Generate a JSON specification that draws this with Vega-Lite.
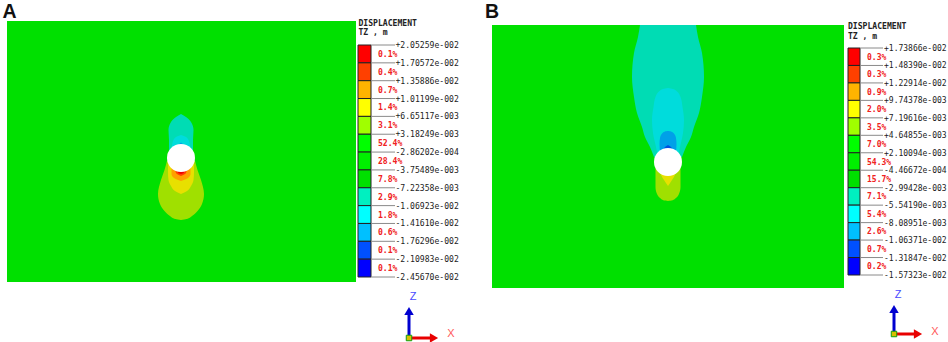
{"$schema":"https://vega.github.io/schema/vega-lite/v6.json","width":948,"height":342,"autosize":{"type":"none"},"padding":0,"background":"#ffffff","config":{"view":{"stroke":null}},
"datasets":{
"frames":[{"panel":"A","band":"b06","x0":-174,"x1":175,"y0":137,"y1":-124},{"panel":"B","band":"b06","x0":-176,"x1":176,"y0":137,"y1":-126}],
"centres":[{"panel":"A","x":0,"y":0},{"panel":"B","x":0,"y":0}],
"contours":[
{"panel":"A","shape":"a1","band":"b05","y":-3,"x0":-14,"x1":14},{"panel":"A","shape":"a1","band":"b05","y":-12,"x0":-16.5,"x1":16.5},{"panel":"A","shape":"a1","band":"b05","y":-22,"x0":-20,"x1":20},{"panel":"A","shape":"a1","band":"b05","y":-36,"x0":-23,"x1":23},{"panel":"A","shape":"a1","band":"b05","y":-46,"x0":-21,"x1":21},{"panel":"A","shape":"a1","band":"b05","y":-53,"x0":-16.5,"x1":16.5},{"panel":"A","shape":"a1","band":"b05","y":-58,"x0":-11,"x1":11},{"panel":"A","shape":"a1","band":"b05","y":-61,"x0":-5.5,"x1":5.5},{"panel":"A","shape":"a1","band":"b05","y":-62,"x0":0,"x1":0},
{"panel":"A","shape":"a2","band":"b04","y":-4,"x0":-13,"x1":13},{"panel":"A","shape":"a2","band":"b04","y":-14,"x0":-13,"x1":13},{"panel":"A","shape":"a2","band":"b04","y":-22,"x0":-12.5,"x1":12.5},{"panel":"A","shape":"a2","band":"b04","y":-28,"x0":-10,"x1":10},{"panel":"A","shape":"a2","band":"b04","y":-33,"x0":-6,"x1":6},{"panel":"A","shape":"a2","band":"b04","y":-36,"x0":0,"x1":0},
{"panel":"A","shape":"a3","band":"b03","y":-6,"x0":-9.5,"x1":9.5},{"panel":"A","shape":"a3","band":"b03","y":-16,"x0":-9.5,"x1":9.5},{"panel":"A","shape":"a3","band":"b03","y":-20,"x0":-7,"x1":7},{"panel":"A","shape":"a3","band":"b03","y":-23,"x0":0,"x1":0},
{"panel":"A","shape":"a4","band":"b02","y":-10,"x0":-6,"x1":6},{"panel":"A","shape":"a4","band":"b02","y":-15,"x0":-5,"x1":5},{"panel":"A","shape":"a4","band":"b02","y":-18,"x0":0,"x1":0},
{"panel":"A","shape":"a5","band":"b01","y":-10,"x0":-3,"x1":3},{"panel":"A","shape":"a5","band":"b01","y":-14.5,"x0":-3,"x1":3},{"panel":"A","shape":"a5","band":"b01","y":-16,"x0":0,"x1":0},
{"panel":"A","shape":"a6","band":"b08","y":44,"x0":0,"x1":0},{"panel":"A","shape":"a6","band":"b08","y":41,"x0":-5,"x1":5},{"panel":"A","shape":"a6","band":"b08","y":36,"x0":-10,"x1":10},{"panel":"A","shape":"a6","band":"b08","y":28,"x0":-12.5,"x1":12.5},{"panel":"A","shape":"a6","band":"b08","y":18,"x0":-12,"x1":12},{"panel":"A","shape":"a6","band":"b08","y":5,"x0":-12,"x1":12},
{"panel":"A","shape":"a7","band":"b09","y":23,"x0":0,"x1":0},{"panel":"A","shape":"a7","band":"b09","y":21,"x0":-5,"x1":5},{"panel":"A","shape":"a7","band":"b09","y":18,"x0":-7.5,"x1":7.5},{"panel":"A","shape":"a7","band":"b09","y":13,"x0":-9,"x1":9},{"panel":"A","shape":"a7","band":"b09","y":8,"x0":-10,"x1":10},
{"panel":"A","shape":"a8","band":"b10","y":15.5,"x0":0,"x1":0},{"panel":"A","shape":"a8","band":"b10","y":13,"x0":-3,"x1":3},
{"panel":"B","shape":"b1","band":"b08","y":137,"x0":-28,"x1":28},{"panel":"B","shape":"b1","band":"b08","y":125,"x0":-30,"x1":30},{"panel":"B","shape":"b1","band":"b08","y":109,"x0":-34,"x1":34},{"panel":"B","shape":"b1","band":"b08","y":85,"x0":-36,"x1":36},{"panel":"B","shape":"b1","band":"b08","y":65,"x0":-34,"x1":34},{"panel":"B","shape":"b1","band":"b08","y":49,"x0":-31,"x1":31},{"panel":"B","shape":"b1","band":"b08","y":35,"x0":-26,"x1":26},{"panel":"B","shape":"b1","band":"b08","y":25,"x0":-23,"x1":23},{"panel":"B","shape":"b1","band":"b08","y":15,"x0":-18,"x1":18},{"panel":"B","shape":"b1","band":"b08","y":5,"x0":-14,"x1":14},
{"panel":"B","shape":"b2","band":"b09","y":74,"x0":0,"x1":0},{"panel":"B","shape":"b2","band":"b09","y":73,"x0":-5,"x1":5},{"panel":"B","shape":"b2","band":"b09","y":71,"x0":-8.5,"x1":8.5},{"panel":"B","shape":"b2","band":"b09","y":65,"x0":-12.5,"x1":12.5},{"panel":"B","shape":"b2","band":"b09","y":55,"x0":-14.5,"x1":14.5},{"panel":"B","shape":"b2","band":"b09","y":42,"x0":-16,"x1":16},{"panel":"B","shape":"b2","band":"b09","y":29,"x0":-15,"x1":15},{"panel":"B","shape":"b2","band":"b09","y":15,"x0":-12,"x1":12},{"panel":"B","shape":"b2","band":"b09","y":5,"x0":-10,"x1":10},
{"panel":"B","shape":"b3","band":"b10","y":31,"x0":0,"x1":0},{"panel":"B","shape":"b3","band":"b10","y":30.5,"x0":-3,"x1":3},{"panel":"B","shape":"b3","band":"b10","y":29,"x0":-5.5,"x1":5.5},{"panel":"B","shape":"b3","band":"b10","y":24,"x0":-8,"x1":8},{"panel":"B","shape":"b3","band":"b10","y":18,"x0":-8.5,"x1":8.5},{"panel":"B","shape":"b3","band":"b10","y":10,"x0":-8,"x1":8},
{"panel":"B","shape":"b4","band":"b11","y":17,"x0":0,"x1":0},{"panel":"B","shape":"b4","band":"b11","y":15,"x0":-3,"x1":3},{"panel":"B","shape":"b4","band":"b11","y":12,"x0":-4.5,"x1":4.5},
{"panel":"B","shape":"b5","band":"b05","y":-39,"x0":0,"x1":0},{"panel":"B","shape":"b5","band":"b05","y":-38.5,"x0":-4,"x1":4},{"panel":"B","shape":"b5","band":"b05","y":-36,"x0":-8,"x1":8},{"panel":"B","shape":"b5","band":"b05","y":-33,"x0":-10.5,"x1":10.5},{"panel":"B","shape":"b5","band":"b05","y":-25,"x0":-12.5,"x1":12.5},{"panel":"B","shape":"b5","band":"b05","y":-15,"x0":-12.5,"x1":12.5},{"panel":"B","shape":"b5","band":"b05","y":-5,"x0":-12.5,"x1":12.5},
{"panel":"B","shape":"b6","band":"b04","y":-24,"x0":0,"x1":0},{"panel":"B","shape":"b6","band":"b04","y":-18,"x0":-4,"x1":4},{"panel":"B","shape":"b6","band":"b04","y":-13,"x0":-7,"x1":7},{"panel":"B","shape":"b6","band":"b04","y":-8,"x0":-8,"x1":8}
],
"bandsA":[{"band":"b01","hi":0.0205259,"lo":0.0170572,"mid":0.01879155,"pct":"0.1%"},{"band":"b02","hi":0.0170572,"lo":0.0135886,"mid":0.0153229,"pct":"0.4%"},{"band":"b03","hi":0.0135886,"lo":0.0101199,"mid":0.01185425,"pct":"0.7%"},{"band":"b04","hi":0.0101199,"lo":0.00665117,"mid":0.00838554,"pct":"1.4%"},{"band":"b05","hi":0.00665117,"lo":0.00318249,"mid":0.00491683,"pct":"3.1%"},{"band":"b06","hi":0.00318249,"lo":-0.000286202,"mid":0.00144814,"pct":"52.4%"},{"band":"b07","hi":-0.000286202,"lo":-0.00375489,"mid":-0.00202055,"pct":"28.4%"},{"band":"b07b","hi":-0.00375489,"lo":-0.00722358,"mid":-0.00548924,"pct":"7.8%"},{"band":"b08","hi":-0.00722358,"lo":-0.0106923,"mid":-0.00895794,"pct":"2.9%"},{"band":"b09","hi":-0.0106923,"lo":-0.014161,"mid":-0.01242665,"pct":"1.8%"},{"band":"b10","hi":-0.014161,"lo":-0.0176296,"mid":-0.0158953,"pct":"0.6%"},{"band":"b11","hi":-0.0176296,"lo":-0.0210983,"mid":-0.01936395,"pct":"0.1%"},{"band":"b12","hi":-0.0210983,"lo":-0.024567,"mid":-0.02283265,"pct":"0.1%"}],
"ticksA":[{"v":0.0205259,"label":"+2.05259e-002"},{"v":0.0170572,"label":"+1.70572e-002"},{"v":0.0135886,"label":"+1.35886e-002"},{"v":0.0101199,"label":"+1.01199e-002"},{"v":0.00665117,"label":"+6.65117e-003"},{"v":0.00318249,"label":"+3.18249e-003"},{"v":-0.000286202,"label":"-2.86202e-004"},{"v":-0.00375489,"label":"-3.75489e-003"},{"v":-0.00722358,"label":"-7.22358e-003"},{"v":-0.0106923,"label":"-1.06923e-002"},{"v":-0.014161,"label":"-1.41610e-002"},{"v":-0.0176296,"label":"-1.76296e-002"},{"v":-0.0210983,"label":"-2.10983e-002"},{"v":-0.024567,"label":"-2.45670e-002"}],
"bandsB":[{"band":"b01","hi":0.0173866,"lo":0.014839,"mid":0.0161128,"pct":"0.3%"},{"band":"b02","hi":0.014839,"lo":0.0122914,"mid":0.0135652,"pct":"0.3%"},{"band":"b03","hi":0.0122914,"lo":0.00974378,"mid":0.01101759,"pct":"0.9%"},{"band":"b04","hi":0.00974378,"lo":0.00719616,"mid":0.00846997,"pct":"2.0%"},{"band":"b05","hi":0.00719616,"lo":0.00464855,"mid":0.00592236,"pct":"3.5%"},{"band":"b06","hi":0.00464855,"lo":0.00210094,"mid":0.00337475,"pct":"7.0%"},{"band":"b07","hi":0.00210094,"lo":-0.000446672,"mid":0.00082713,"pct":"54.3%"},{"band":"b07b","hi":-0.000446672,"lo":-0.00299428,"mid":-0.00172048,"pct":"15.7%"},{"band":"b08","hi":-0.00299428,"lo":-0.0055419,"mid":-0.00426809,"pct":"7.1%"},{"band":"b09","hi":-0.0055419,"lo":-0.00808951,"mid":-0.00681571,"pct":"5.4%"},{"band":"b10","hi":-0.00808951,"lo":-0.0106371,"mid":-0.00936331,"pct":"2.6%"},{"band":"b11","hi":-0.0106371,"lo":-0.0131847,"mid":-0.0119109,"pct":"0.7%"},{"band":"b12","hi":-0.0131847,"lo":-0.0157323,"mid":-0.0144585,"pct":"0.2%"}],
"ticksB":[{"v":0.0173866,"label":"+1.73866e-002"},{"v":0.014839,"label":"+1.48390e-002"},{"v":0.0122914,"label":"+1.22914e-002"},{"v":0.00974378,"label":"+9.74378e-003"},{"v":0.00719616,"label":"+7.19616e-003"},{"v":0.00464855,"label":"+4.64855e-003"},{"v":0.00210094,"label":"+2.10094e-003"},{"v":-0.000446672,"label":"-4.46672e-004"},{"v":-0.00299428,"label":"-2.99428e-003"},{"v":-0.0055419,"label":"-5.54190e-003"},{"v":-0.00808951,"label":"-8.08951e-003"},{"v":-0.0106371,"label":"-1.06371e-002"},{"v":-0.0131847,"label":"-1.31847e-002"},{"v":-0.0157323,"label":"-1.57323e-002"}],
"notes":[{"panel":"A","text":"DISPLACEMENT","x":177.5,"y":134},{"panel":"A","text":"TZ , m","x":177.5,"y":125},{"panel":"B","text":"DISPLACEMENT","x":180,"y":135},{"panel":"B","text":"TZ , m","x":180,"y":125}],
"letters":[{"panel":"A","text":"A","x":-171.5,"y":140},{"panel":"B","text":"B","x":-176,"y":144}],
"triad":[{"panel":"A","axis":"Z","x":228,"y":-180},{"panel":"A","axis":"Z","x":228,"y":-155},{"panel":"A","axis":"X","x":228,"y":-180},{"panel":"A","axis":"X","x":252,"y":-180},{"panel":"B","axis":"Z","x":226,"y":-172},{"panel":"B","axis":"Z","x":226,"y":-149},{"panel":"B","axis":"X","x":226,"y":-172},{"panel":"B","axis":"X","x":249,"y":-172}],
"heads":[{"panel":"A","axis":"Z","x":228,"y":-153,"tri":"triangle-up"},{"panel":"A","axis":"X","x":253,"y":-180,"tri":"triangle-right"},{"panel":"B","axis":"Z","x":226,"y":-147,"tri":"triangle-up"},{"panel":"B","axis":"X","x":250,"y":-172,"tri":"triangle-right"}],
"origins":[{"panel":"A","x":228,"y":-180},{"panel":"B","x":226,"y":-172}],
"axisNames":[{"panel":"A","axis":"Z","x":232,"y":-139},{"panel":"A","axis":"X","x":270,"y":-176},{"panel":"B","axis":"Z","x":230,"y":-133},{"panel":"B","axis":"X","x":267,"y":-170}]
},
"layer":[
{"layer":[
{"data":{"name":"frames"},"transform":[{"filter":"datum.panel==='A'"}],"mark":"rect","encoding":{"x":{"field":"x0","type":"quantitative","scale":{"domain":[-181,767],"nice":false,"zero":false},"axis":null},"x2":{"field":"x1"},"y":{"field":"y0","type":"quantitative","scale":{"domain":[-184,158],"nice":false,"zero":false},"axis":null},"y2":{"field":"y1"},"color":{"field":"band","type":"nominal","legend":null,"scale":{"domain":["b01","b02","b03","b04","b05","b06","b08","b09","b10","b11"],"range":["#f00000","#ff4000","#ffa000","#e8e000","#a0e000","#00e000","#00dcb4","#00dcdc","#00a0e8","#0050e0"]}}}},
{"data":{"name":"contours"},"transform":[{"filter":"datum.panel==='A'"}],"mark":{"type":"area","orient":"horizontal","interpolate":"monotone"},"encoding":{"y":{"field":"y","type":"quantitative"},"x":{"field":"x0","type":"quantitative"},"x2":{"field":"x1"},"detail":{"field":"shape"},"color":{"field":"band","type":"nominal"}}},
{"data":{"name":"centres"},"transform":[{"filter":"datum.panel==='A'"}],"mark":{"type":"point","shape":"circle","filled":true,"size":784,"fill":"#ffffff","opacity":1},"encoding":{"x":{"field":"x","type":"quantitative"},"y":{"field":"y","type":"quantitative"}}},
{"data":{"name":"notes"},"transform":[{"filter":"datum.panel==='A'"}],"mark":{"type":"text","align":"left","baseline":"middle","font":"DejaVu Sans Mono","fontSize":8.1,"fontWeight":"bold","fill":"#222222"},"encoding":{"x":{"field":"x","type":"quantitative"},"y":{"field":"y","type":"quantitative"},"text":{"field":"text"}}},
{"data":{"name":"letters"},"transform":[{"filter":"datum.panel==='A'"}],"mark":{"type":"text","align":"center","baseline":"alphabetic","font":"Liberation Sans","fontSize":19.5,"fontWeight":"bold","fill":"#111111"},"encoding":{"x":{"field":"x","type":"quantitative"},"y":{"field":"y","type":"quantitative"},"text":{"field":"text"}}},
{"data":{"name":"triad"},"transform":[{"filter":"datum.panel==='A' && datum.axis==='Z'"}],"mark":{"type":"line","stroke":"#0000d0","strokeWidth":3},"encoding":{"x":{"field":"x","type":"quantitative"},"y":{"field":"y","type":"quantitative"}}},
{"data":{"name":"triad"},"transform":[{"filter":"datum.panel==='A' && datum.axis==='X'"}],"mark":{"type":"line","stroke":"#e80000","strokeWidth":3},"encoding":{"x":{"field":"x","type":"quantitative"},"y":{"field":"y","type":"quantitative"}}},
{"data":{"name":"heads"},"transform":[{"filter":"datum.panel==='A' && datum.axis==='Z'"}],"mark":{"type":"point","shape":"triangle-up","filled":true,"size":90,"fill":"#0000d0","opacity":1},"encoding":{"x":{"field":"x","type":"quantitative"},"y":{"field":"y","type":"quantitative"}}},
{"data":{"name":"heads"},"transform":[{"filter":"datum.panel==='A' && datum.axis==='X'"}],"mark":{"type":"point","shape":"triangle-right","filled":true,"size":90,"fill":"#e80000","opacity":1},"encoding":{"x":{"field":"x","type":"quantitative"},"y":{"field":"y","type":"quantitative"}}},
{"data":{"name":"origins"},"transform":[{"filter":"datum.panel==='A'"}],"mark":{"type":"point","shape":"square","filled":true,"size":30,"fill":"#d8c000","stroke":"#10a010","strokeWidth":1,"opacity":1},"encoding":{"x":{"field":"x","type":"quantitative"},"y":{"field":"y","type":"quantitative"}}},
{"data":{"name":"axisNames"},"transform":[{"filter":"datum.panel==='A' && datum.axis==='Z'"}],"mark":{"type":"text","font":"Liberation Sans","fontSize":11,"baseline":"middle","fill":"#4a4aff"},"encoding":{"x":{"field":"x","type":"quantitative"},"y":{"field":"y","type":"quantitative"},"text":{"field":"axis"}}},
{"data":{"name":"axisNames"},"transform":[{"filter":"datum.panel==='A' && datum.axis==='X'"}],"mark":{"type":"text","font":"Liberation Sans","fontSize":11,"baseline":"middle","fill":"#ff5a5a"},"encoding":{"x":{"field":"x","type":"quantitative"},"y":{"field":"y","type":"quantitative"},"text":{"field":"axis"}}}
]},
{"layer":[
{"data":{"name":"bandsA"},"mark":{"type":"rect","stroke":"#222222","strokeWidth":1},"encoding":{"x":{"datum":177,"type":"quantitative","scale":{"domain":[-181,767],"nice":false,"zero":false},"axis":null},"x2":{"datum":190},"y":{"field":"hi","type":"quantitative","scale":{"domain":[0.0205259,-0.024567],"range":[45,277],"nice":false,"zero":false},"axis":null},"y2":{"field":"lo"},"color":{"field":"band","type":"nominal","legend":null,"scale":{"domain":["b01","b02","b03","b04","b05","b06","b07","b07b","b08","b09","b10","b11","b12"],"range":["#ff0000","#ff4000","#ffb400","#ffff00","#a0ff00","#00ff00","#00f000","#00e000","#00f0c0","#00ffff","#00c0ff","#0050ff","#0000ff"]}}}},
{"data":{"name":"ticksA"},"mark":{"type":"rule","stroke":"#8a8a8a","strokeWidth":1},"encoding":{"x":{"datum":190,"type":"quantitative"},"x2":{"datum":214},"y":{"field":"v","type":"quantitative"}}},
{"data":{"name":"ticksA"},"mark":{"type":"text","align":"left","baseline":"middle","dy":1,"font":"DejaVu Sans Mono","fontSize":8.1,"fill":"#222222"},"encoding":{"x":{"datum":214.5,"type":"quantitative"},"y":{"field":"v","type":"quantitative"},"text":{"field":"label"}}},
{"data":{"name":"bandsA"},"mark":{"type":"text","align":"left","baseline":"middle","dy":1,"font":"DejaVu Sans Mono","fontSize":8.1,"fontWeight":"bold","fill":"#f02020"},"encoding":{"x":{"datum":197,"type":"quantitative"},"y":{"field":"mid","type":"quantitative"},"text":{"field":"pct"}}}
]},
{"layer":[
{"data":{"name":"frames"},"transform":[{"filter":"datum.panel==='B'"}],"mark":"rect","encoding":{"x":{"field":"x0","type":"quantitative","scale":{"domain":[-668,280],"nice":false,"zero":false},"axis":null},"x2":{"field":"x1"},"y":{"field":"y0","type":"quantitative","scale":{"domain":[-180,162],"nice":false,"zero":false},"axis":null},"y2":{"field":"y1"},"color":{"field":"band","type":"nominal","legend":null,"scale":{"domain":["b01","b02","b03","b04","b05","b06","b08","b09","b10","b11"],"range":["#f00000","#ff4000","#ffa000","#e8e000","#a0e000","#00e000","#00dcb4","#00dcdc","#00a0e8","#0050e0"]}}}},
{"data":{"name":"contours"},"transform":[{"filter":"datum.panel==='B'"}],"mark":{"type":"area","orient":"horizontal","interpolate":"monotone"},"encoding":{"y":{"field":"y","type":"quantitative"},"x":{"field":"x0","type":"quantitative"},"x2":{"field":"x1"},"detail":{"field":"shape"},"color":{"field":"band","type":"nominal"}}},
{"data":{"name":"centres"},"transform":[{"filter":"datum.panel==='B'"}],"mark":{"type":"point","shape":"circle","filled":true,"size":784,"fill":"#ffffff","opacity":1},"encoding":{"x":{"field":"x","type":"quantitative"},"y":{"field":"y","type":"quantitative"}}},
{"data":{"name":"notes"},"transform":[{"filter":"datum.panel==='B'"}],"mark":{"type":"text","align":"left","baseline":"middle","font":"DejaVu Sans Mono","fontSize":8.1,"fontWeight":"bold","fill":"#222222"},"encoding":{"x":{"field":"x","type":"quantitative"},"y":{"field":"y","type":"quantitative"},"text":{"field":"text"}}},
{"data":{"name":"letters"},"transform":[{"filter":"datum.panel==='B'"}],"mark":{"type":"text","align":"center","baseline":"alphabetic","font":"Liberation Sans","fontSize":19.5,"fontWeight":"bold","fill":"#111111"},"encoding":{"x":{"field":"x","type":"quantitative"},"y":{"field":"y","type":"quantitative"},"text":{"field":"text"}}},
{"data":{"name":"triad"},"transform":[{"filter":"datum.panel==='B' && datum.axis==='Z'"}],"mark":{"type":"line","stroke":"#0000d0","strokeWidth":3},"encoding":{"x":{"field":"x","type":"quantitative"},"y":{"field":"y","type":"quantitative"}}},
{"data":{"name":"triad"},"transform":[{"filter":"datum.panel==='B' && datum.axis==='X'"}],"mark":{"type":"line","stroke":"#e80000","strokeWidth":3},"encoding":{"x":{"field":"x","type":"quantitative"},"y":{"field":"y","type":"quantitative"}}},
{"data":{"name":"heads"},"transform":[{"filter":"datum.panel==='B' && datum.axis==='Z'"}],"mark":{"type":"point","shape":"triangle-up","filled":true,"size":90,"fill":"#0000d0","opacity":1},"encoding":{"x":{"field":"x","type":"quantitative"},"y":{"field":"y","type":"quantitative"}}},
{"data":{"name":"heads"},"transform":[{"filter":"datum.panel==='B' && datum.axis==='X'"}],"mark":{"type":"point","shape":"triangle-right","filled":true,"size":90,"fill":"#e80000","opacity":1},"encoding":{"x":{"field":"x","type":"quantitative"},"y":{"field":"y","type":"quantitative"}}},
{"data":{"name":"origins"},"transform":[{"filter":"datum.panel==='B'"}],"mark":{"type":"point","shape":"square","filled":true,"size":30,"fill":"#d8c000","stroke":"#10a010","strokeWidth":1,"opacity":1},"encoding":{"x":{"field":"x","type":"quantitative"},"y":{"field":"y","type":"quantitative"}}},
{"data":{"name":"axisNames"},"transform":[{"filter":"datum.panel==='B' && datum.axis==='Z'"}],"mark":{"type":"text","font":"Liberation Sans","fontSize":11,"baseline":"middle","fill":"#4a4aff"},"encoding":{"x":{"field":"x","type":"quantitative"},"y":{"field":"y","type":"quantitative"},"text":{"field":"axis"}}},
{"data":{"name":"axisNames"},"transform":[{"filter":"datum.panel==='B' && datum.axis==='X'"}],"mark":{"type":"text","font":"Liberation Sans","fontSize":11,"baseline":"middle","fill":"#ff5a5a"},"encoding":{"x":{"field":"x","type":"quantitative"},"y":{"field":"y","type":"quantitative"},"text":{"field":"axis"}}}
]},
{"layer":[
{"data":{"name":"bandsB"},"mark":{"type":"rect","stroke":"#222222","strokeWidth":1},"encoding":{"x":{"datum":180,"type":"quantitative","scale":{"domain":[-668,280],"nice":false,"zero":false},"axis":null},"x2":{"datum":192},"y":{"field":"hi","type":"quantitative","scale":{"domain":[0.0173866,-0.0157323],"range":[48,275],"nice":false,"zero":false},"axis":null},"y2":{"field":"lo"},"color":{"field":"band","type":"nominal","legend":null,"scale":{"domain":["b01","b02","b03","b04","b05","b06","b07","b07b","b08","b09","b10","b11","b12"],"range":["#ff0000","#ff4000","#ffb400","#ffff00","#a0ff00","#00ff00","#00f000","#00e000","#00f0c0","#00ffff","#00c0ff","#0050ff","#0000ff"]}}}},
{"data":{"name":"ticksB"},"mark":{"type":"rule","stroke":"#8a8a8a","strokeWidth":1},"encoding":{"x":{"datum":192,"type":"quantitative"},"x2":{"datum":215},"y":{"field":"v","type":"quantitative"}}},
{"data":{"name":"ticksB"},"mark":{"type":"text","align":"left","baseline":"middle","dy":1,"font":"DejaVu Sans Mono","fontSize":8,"fill":"#222222"},"encoding":{"x":{"datum":216,"type":"quantitative"},"y":{"field":"v","type":"quantitative"},"text":{"field":"label"}}},
{"data":{"name":"bandsB"},"mark":{"type":"text","align":"left","baseline":"middle","dy":1,"font":"DejaVu Sans Mono","fontSize":8,"fontWeight":"bold","fill":"#f02020"},"encoding":{"x":{"datum":199,"type":"quantitative"},"y":{"field":"mid","type":"quantitative"},"text":{"field":"pct"}}}
]}
],
"resolve":{"scale":{"x":"independent","y":"independent","color":"independent"}}
}
